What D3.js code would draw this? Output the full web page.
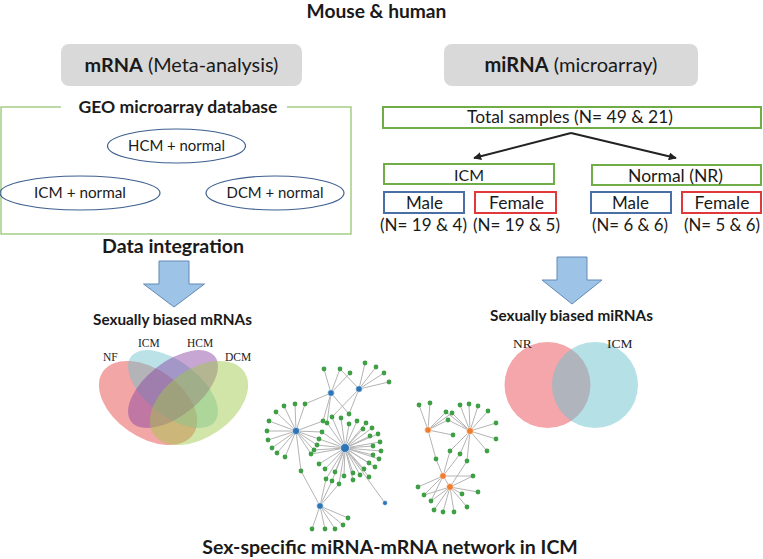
<!DOCTYPE html>
<html><head><meta charset="utf-8">
<script src="https://cdn.jsdelivr.net/npm/d3@7"></script>
<style>html,body{margin:0;padding:0;background:#fff;} svg{display:block;}</style>
</head><body>
<script>
// ---------------- DATA ----------------
const title = "Mouse & human";
const panelHeads = [{bold:"mRNA", rest:" (Meta-analysis)"}, {bold:"miRNA", rest:" (microarray)"}];
const geoTitle = "GEO microarray database";
const geoDatasets = ["HCM + normal", "ICM + normal", "DCM + normal"];
const integrationLabel = "Data integration";
const totalSamples = "Total samples (N= 49 & 21)";
const groups = ["ICM", "Normal (NR)"];
const sexes = ["Male", "Female"];
const sampleCounts = ["(N= 19 & 4)", "(N= 19 & 5)", "(N= 6 & 6)", "(N= 5 & 6)"];
const biasedLabels = ["Sexually biased mRNAs", "Sexually biased miRNAs"];
const mrnaSets = ["NF", "ICM", "HCM", "DCM"];
const mirnaSets = ["NR", "ICM"];
const networkTitle = "Sex-specific miRNA-mRNA network in ICM";

// network: miRNA hubs (layout units) and mRNA targets with the hubs they link to
const hubs = [
  {id:"B1", x:331, y:393, kind:"male", size:1},
  {id:"B2", x:359, y:389, kind:"male", size:1},
  {id:"B3", x:296, y:431, kind:"male", size:1.1},
  {id:"B4", x:345, y:448, kind:"male", size:1.35},
  {id:"B5", x:320, y:506, kind:"male", size:1},
  {id:"B6", x:385, y:503, kind:"male", size:0.75},
  {id:"O1", x:428, y:430, kind:"female", size:1},
  {id:"O2", x:470, y:431, kind:"female", size:1.05},
  {id:"O3", x:443, y:476, kind:"female", size:1},
  {id:"O4", x:450, y:487, kind:"female", size:1.05}
];
const hubLinks = [["B4","B6"], ["O3","O4"]];
const targets = [
  [324,369,["B1"]],[340,369,["B1","B2"]],[350,373,["B1"]],[365,363,["B2"]],[376,367,["B2"]],
  [384,373,["B2"]],[389,382,["B2"]],[349,414,["B1","B2"]],
  [284,406,["B3"]],[295,404,["B3"]],[305,404,["B3","B1"]],[276,412,["B3"]],[269,421,["B3"]],
  [267,431,["B3"]],[268,440,["B3"]],[272,448,["B3"]],[277,453,["B3"]],[285,457,["B3"]],
  [311,454,["B3","B4"]],[314,450,["B3","B4"]],[317,445,["B3","B4"]],[319,439,["B3","B4"]],
  [322,432,["B3","B4"]],[323,421,["B3","B1"]],[301,471,["B3","B5"]],
  [327,423,["B4","B1"]],[332,417,["B4","B2"]],[341,418,["B4"]],[349,424,["B4"]],[357,421,["B4"]],
  [366,423,["B4"]],[363,429,["B4"]],[372,428,["B4"]],[378,434,["B4"]],[370,436,["B4"]],
  [380,442,["B4"]],[373,446,["B4"]],[381,451,["B4"]],[373,455,["B4"]],[379,459,["B4"]],
  [369,463,["B4"]],[375,467,["B4"]],[364,469,["B4"]],[369,477,["B4"]],[360,475,["B4"]],
  [353,473,["B4"]],[353,480,["B4"]],[344,476,["B4"]],[339,484,["B4","B5"]],[335,472,["B4"]],
  [332,481,["B4","B5"]],[326,479,["B4","B5"]],[325,469,["B4"]],[319,464,["B4"]],
  [312,529,["B5"]],[325,529,["B5"]],[335,529,["B5"]],[343,525,["B5"]],[348,518,["B5"]],
  [419,405,["O1"]],[430,403,["O1"]],[446,412,["O1","O2"]],[452,413,["O1","O2"]],[448,420,["O1","O2"]],
  [453,435,["O1"]],[460,405,["O2"]],[469,404,["O2"]],[478,406,["O2"]],[488,411,["O2"]],
  [496,423,["O2"]],[496,439,["O2"]],[487,451,["O2"]],[450,451,["O2","O3"]],[460,454,["O2","O3"]],
  [436,459,["O1","O3"]],[467,461,["O2","O4"]],[473,476,["O3","O4"]],[418,487,["O3"]],
  [424,495,["O3","O4"]],[431,501,["O3","O4"]],[462,494,["O4"]],[478,492,["O4"]],
  [434,510,["O4"]],[443,512,["O4"]],[454,512,["O4"]],[467,507,["O4"]]
];

// ---------------- DRAWING ----------------
const W = 763, H = 559;
const SANS = "Lato, 'Open Sans', sans-serif";
const SERIF = "'Liberation Serif', 'DejaVu Serif', serif";
const svg = d3.select("body").append("svg").attr("width", W).attr("height", H)
  .style("font-family", SANS);

// fit a text element's font size so that it spans the width seen in the reference
function fit(sel, size, w) {
  sel.attr("font-size", size);
  if (w) {
    const L = sel.node().getComputedTextLength();
    if (L > 0) sel.attr("font-size", size * w / L);
  }
  return sel;
}
function txt(x, y, s, size, opts = {}) {
  const t = svg.append("text").attr("x", x).attr("y", y).attr("text-anchor", opts.anchor || "middle")
    .attr("font-weight", opts.bold ? "bold" : "normal")
    .attr("fill", opts.fill || "#1a1a1a").style("font-family", opts.family || SANS).text(s);
  return fit(t, size, opts.w);
}

// title
txt(376.5, 18, title, 17, {bold:true, w:140});

// panel heads (gray rounded boxes)
const headBoxes = [{x:61, w:241, tw:194}, {x:444, w:254, tw:173}];
panelHeads.forEach((p, i) => {
  const b = headBoxes[i];
  svg.append("rect").attr("x", b.x).attr("y", 44).attr("width", b.w).attr("height", 42)
    .attr("rx", 8).attr("fill", "#d9d9d9");
  const t = svg.append("text").attr("x", b.x + b.w / 2).attr("y", 72).attr("text-anchor", "middle")
    .attr("fill", "#1a1a1a");
  t.append("tspan").attr("font-weight", "bold").text(p.bold);
  t.append("tspan").text(p.rest);
  fit(t, 17.5, b.tw);
});

// GEO box
const geo = {x:1, y:107, w:350, h:127};
svg.append("rect").attr("x", geo.x).attr("y", geo.y).attr("width", geo.w).attr("height", geo.h)
  .attr("fill", "none").attr("stroke", "#8dc067").attr("stroke-width", 1.2);
svg.append("rect").attr("x", 61).attr("y", geo.y - 3).attr("width", 226).attr("height", 6).attr("fill", "#fff");
txt(178, 112.5, geoTitle, 16, {bold:true, w:199});

const geoEll = [{cx:176.5, cy:146, rx:69, tw:97}, {cx:80, cy:193, rx:80, tw:92}, {cx:275, cy:193, rx:69, tw:97}];
geoDatasets.forEach((d, i) => {
  const e = geoEll[i];
  svg.append("ellipse").attr("cx", e.cx).attr("cy", e.cy).attr("rx", e.rx).attr("ry", 17)
    .attr("fill", "none").attr("stroke", "#3d5f8f").attr("stroke-width", 1.2);
  txt(e.cx, e.cy + 5, d, 14.5, {w:e.tw});
});

txt(173, 253, integrationLabel, 17.5, {bold:true, w:142});

// block arrows
function blockArrow(cx, top, shaftW, headW, headY, tipY) {
  const p = d3.path();
  p.moveTo(cx - shaftW / 2, top); p.lineTo(cx + shaftW / 2, top); p.lineTo(cx + shaftW / 2, headY);
  p.lineTo(cx + headW / 2, headY); p.lineTo(cx, tipY); p.lineTo(cx - headW / 2, headY);
  p.lineTo(cx - shaftW / 2, headY); p.closePath();
  svg.append("path").attr("d", p.toString()).attr("fill", "#9dc3e6").attr("stroke", "#6289b5").attr("stroke-width", 1);
}
blockArrow(174, 261, 30, 61, 284, 307);
blockArrow(572, 257, 30, 60, 280, 304);

txt(172.5, 325, biasedLabels[0], 14.5, {bold:true, w:159});
txt(571.5, 321, biasedLabels[1], 14.5, {bold:true, w:163});

// mRNA four-set Venn
const mrnaGeom = [
  {cx:148, cy:403, rx:55, ry:34, rot:35, color:"#e54141", lx:103, ly:361},
  {cx:173, cy:389, rx:53, ry:27, rot:38, color:"#6dc1cd", lx:138, ly:347},
  {cx:173, cy:389, rx:53, ry:27, rot:-38, color:"#8941a1", lx:187, ly:347},
  {cx:199, cy:403, rx:55, ry:34, rot:-35, color:"#9fc747", lx:225, ly:361}
];
mrnaSets.forEach((s, i) => {
  const g = mrnaGeom[i];
  svg.append("ellipse").attr("cx", 0).attr("cy", 0).attr("rx", g.rx).attr("ry", g.ry)
    .attr("transform", `translate(${g.cx},${g.cy}) rotate(${g.rot})`)
    .attr("fill", g.color).attr("fill-opacity", 0.47);
});
mrnaSets.forEach((s, i) => {
  const g = mrnaGeom[i];
  txt(g.lx, g.ly, s, 11.5, {anchor:"start", family:SERIF, fill:"#222"});
});

// miRNA two-set Venn
const mirnaGeom = [
  {cx:547.5, cy:385, r:43, color:"#e94d55", lx:513, ly:348},
  {cx:595, cy:385, r:43, color:"#6bc1cd", lx:607, ly:348}
];
mirnaSets.forEach((s, i) => {
  const g = mirnaGeom[i];
  svg.append("circle").attr("cx", g.cx).attr("cy", g.cy).attr("r", g.r)
    .attr("fill", g.color).attr("fill-opacity", 0.5);
});
mirnaSets.forEach((s, i) => {
  const g = mirnaGeom[i];
  txt(g.lx, g.ly, s, 13.5, {anchor:"start", family:SERIF, fill:"#222"});
});

// miRNA design tree
const GREEN = "#70ad47";
function box(x, y, w, h, stroke) {
  svg.append("rect").attr("x", x).attr("y", y).attr("width", w).attr("height", h)
    .attr("fill", "#fff").attr("stroke", stroke).attr("stroke-width", 2);
}
box(383, 107, 378, 21, GREEN);
txt(570, 123, totalSamples, 16.5, {w:206});

svg.append("defs").append("marker").attr("id", "ah").attr("viewBox", "0 0 10 10")
  .attr("refX", 9).attr("refY", 5).attr("markerWidth", 4).attr("markerHeight", 4)
  .attr("orient", "auto").append("path").attr("d", "M0,0L10,5L0,10z").attr("fill", "#222");
const groupBoxes = [{x:384, w:170, cy:164, tx:469, tw:30, ax:474}, {x:592, w:169, cy:165, tx:675.5, tw:95, ax:676}];
groupBoxes.forEach(b => {
  svg.append("line").attr("x1", 571).attr("y1", 133).attr("x2", b.ax).attr("y2", 158)
    .attr("stroke", "#222").attr("stroke-width", 2).attr("marker-end", "url(#ah)");
});
groups.forEach((g, i) => {
  const b = groupBoxes[i];
  box(b.x, b.cy, b.w, 20, GREEN);
  txt(b.tx, b.cy + 16.5, g, 16.5, {w:b.tw});
});
const sexBoxes = [
  {x:384, w:80, tx:424.5, tw:37, nx:423.5, nw:87},
  {x:475, w:81, tx:516.5, tw:55, nx:516.5, nw:87},
  {x:591, w:80, tx:630.5, tw:37, nx:630, nw:76},
  {x:682, w:79, tx:722, tw:55, nx:722, nw:76}
];
const sexColors = {Male:"#4a6fa5", Female:"#e0383b"};
sexBoxes.forEach((b, i) => {
  const s = sexes[i % 2];
  box(b.x, 192, b.w, 21, sexColors[s]);
  txt(b.tx, 208.5, s, 16.5, {w:b.tw});
  txt(b.nx, 231, sampleCounts[i], 16, {w:b.nw});
});

// network
const nx = d3.scaleLinear().domain([260, 500]).range([260, 500]);
const ny = d3.scaleLinear().domain([360, 535]).range([360, 535]);
const hubById = new Map(hubs.map(h => [h.id, h]));
const links = [];
targets.forEach(t => t[2].forEach(h => links.push({a:hubById.get(h), b:{x:t[0], y:t[1]}})));
hubLinks.forEach(([a, b]) => links.push({a:hubById.get(a), b:hubById.get(b)}));
const net = svg.append("g");
net.selectAll("line").data(links).join("line")
  .attr("x1", d => nx(d.a.x)).attr("y1", d => ny(d.a.y))
  .attr("x2", d => nx(d.b.x)).attr("y2", d => ny(d.b.y))
  .attr("stroke", "#b4b4b4").attr("stroke-width", 1);
net.selectAll("circle.t").data(targets).join("circle").attr("class", "t")
  .attr("cx", d => nx(d[0])).attr("cy", d => ny(d[1])).attr("r", 2.4).attr("fill", "#3f9f45");
const hubColor = {male:"#2e75b6", female:"#ed7d31"};
net.selectAll("circle.h").data(hubs).join("circle").attr("class", "h")
  .attr("cx", d => nx(d.x)).attr("cy", d => ny(d.y)).attr("r", d => 3.3 * d.size)
  .attr("fill", d => hubColor[d.kind]).attr("stroke", "#fff").attr("stroke-width", 0.6);

txt(390, 554, networkTitle, 19.5, {bold:true, w:376});
</script>
</body></html>
